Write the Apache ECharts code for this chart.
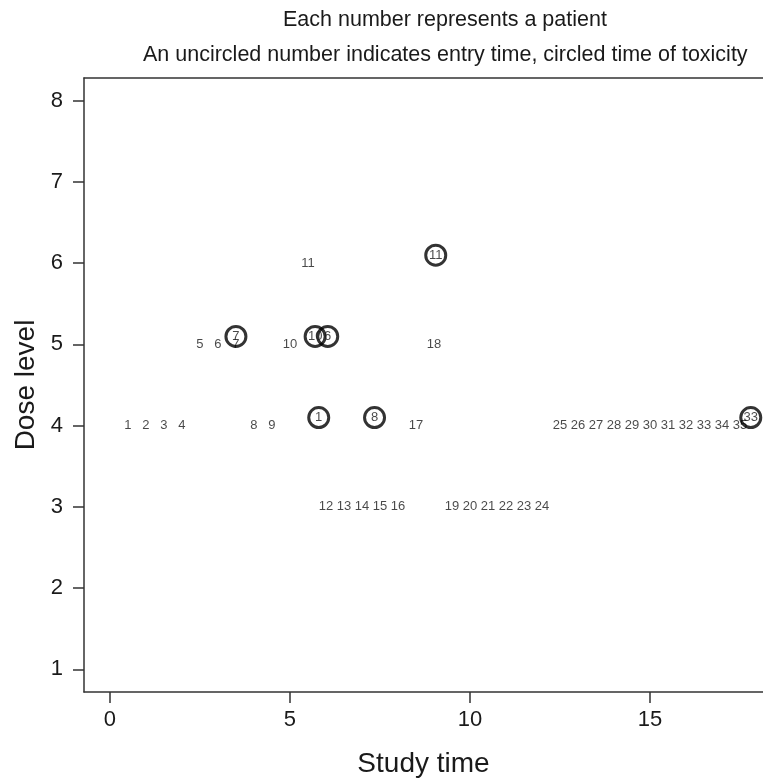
<!DOCTYPE html>
<html>
<head>
<meta charset="utf-8">
<script src="https://cdn.jsdelivr.net/npm/echarts@6/dist/echarts.min.js"></script>
<style>
  html, body { margin: 0; padding: 0; background: #fff; }
  #chart { width: 763px; height: 783px; }
</style>
</head>
<body>
<div id="chart"></div>
<script>
// patients, entry time and dose level
var patientIds = [1, 2, 3, 4, 5, 6, 7, 8, 9, 10, 11, 12, 13, 14, 15, 16, 17, 18,
  19, 20, 21, 22, 23, 24, 25, 26, 27, 28, 29, 30, 31, 32, 33, 34, 35]
var entryTimes = [0.5, 1, 1.5, 2, 2.5, 3, 3.5, 4, 4.5, 5, 5.5, 6, 6.5, 7, 7.5, 8, 8.5, 9,
  9.5, 10, 10.5, 11, 11.5, 12, 12.5, 13, 13.5, 14, 14.5, 15, 15.5, 16, 16.5, 17, 17.5]
var entryDoses = [4, 4, 4, 4, 5, 5, 5, 4, 4, 5, 6, 3, 3, 3, 3, 3, 4, 5,
  3, 3, 3, 3, 3, 3, 4, 4, 4, 4, 4, 4, 4, 4, 4, 4, 4]

// toxicities (circled)
var toxIds = [7, 10, 6, 1, 8, 11, 33]
var toxTimes = [3.5, 5.7, 6.05, 5.8, 7.35, 9.05, 17.8]
var toxDoses = [5, 5, 5, 4, 4, 6, 4]

var xTicks = [0, 5, 10, 15]
var yTicks = [1, 2, 3, 4, 5, 6, 7, 8]

var FONT = "'Liberation Sans', Arial, Helvetica, sans-serif"
var INK = '#1a1a1a'
var LINE = { color: '#333', width: 1.5 }

var entryData = patientIds.map(function (id, i) {
  return { value: [entryTimes[i], entryDoses[i]], name: String(id) }
})
var toxData = toxIds.map(function (id, i) {
  return { value: [toxTimes[i], toxDoses[i]], name: String(id) }
})

var chart = echarts.init(document.getElementById('chart'))

chart.setOption({
  backgroundColor: '#fff',
  animation: false,
  textStyle: { fontFamily: FONT },
  graphic: [
    {
      type: 'text', left: 445 - 162, top: 9,
      style: { text: 'Each number represents a patient', font: '21.5px ' + FONT, fill: INK }
    },
    {
      type: 'text', left: 445 - 302, top: 44,
      style: { text: 'An uncircled number indicates entry time, circled time of toxicity', font: '21.5px ' + FONT, fill: INK }
    }
  ],
  grid: { left: 84, top: 78, right: 0, bottom: 89 },
  xAxis: [
    {
      type: 'value', min: -0.72, max: 18.14, position: 'bottom',
      name: 'Study time', nameLocation: 'middle', nameGap: 58,
      nameTextStyle: { fontSize: 28, color: INK, fontFamily: FONT },
      splitLine: { show: false },
      axisLine: { show: true, onZero: false, lineStyle: LINE },
      axisTick: { show: true, length: 11, customValues: xTicks, lineStyle: LINE },
      axisLabel: { customValues: xTicks, fontSize: 22, color: INK, margin: 17, fontFamily: FONT }
    },
    {
      // top edge of the box
      type: 'value', min: -0.72, max: 18.14, position: 'top',
      splitLine: { show: false },
      axisLine: { show: true, onZero: false, lineStyle: LINE },
      axisTick: { show: false },
      axisLabel: { show: false }
    }
  ],
  yAxis: {
    type: 'value', min: 0.72, max: 8.28,
    name: 'Dose level', nameLocation: 'middle', nameGap: 44, nameRotate: 90,
    nameTextStyle: { fontSize: 28, color: INK, fontFamily: FONT },
    splitLine: { show: false },
    axisLine: { show: true, onZero: false, lineStyle: LINE },
    axisTick: { show: true, length: 11, customValues: yTicks, lineStyle: LINE },
    axisLabel: { customValues: yTicks, fontSize: 22, color: INK, margin: 21, fontFamily: FONT }
  },
  series: [
    {
      name: 'entry',
      type: 'scatter',
      data: entryData,
      symbolSize: 0,
      label: {
        show: true, position: 'inside', formatter: '{b}',
        fontSize: 13, color: INK, fontFamily: FONT
      }
    },
    {
      name: 'toxicity',
      type: 'scatter',
      data: toxData,
      symbol: 'circle',
      symbolSize: 20,
      symbolOffset: [0, -8],
      itemStyle: { color: 'rgba(0,0,0,0)', borderColor: '#000', borderWidth: 3 },
      label: {
        show: true, position: 'inside', formatter: '{b}',
        fontSize: 13, color: INK, fontFamily: FONT
      },
      z: 3
    }
  ]
})
</script>
</body>
</html>
